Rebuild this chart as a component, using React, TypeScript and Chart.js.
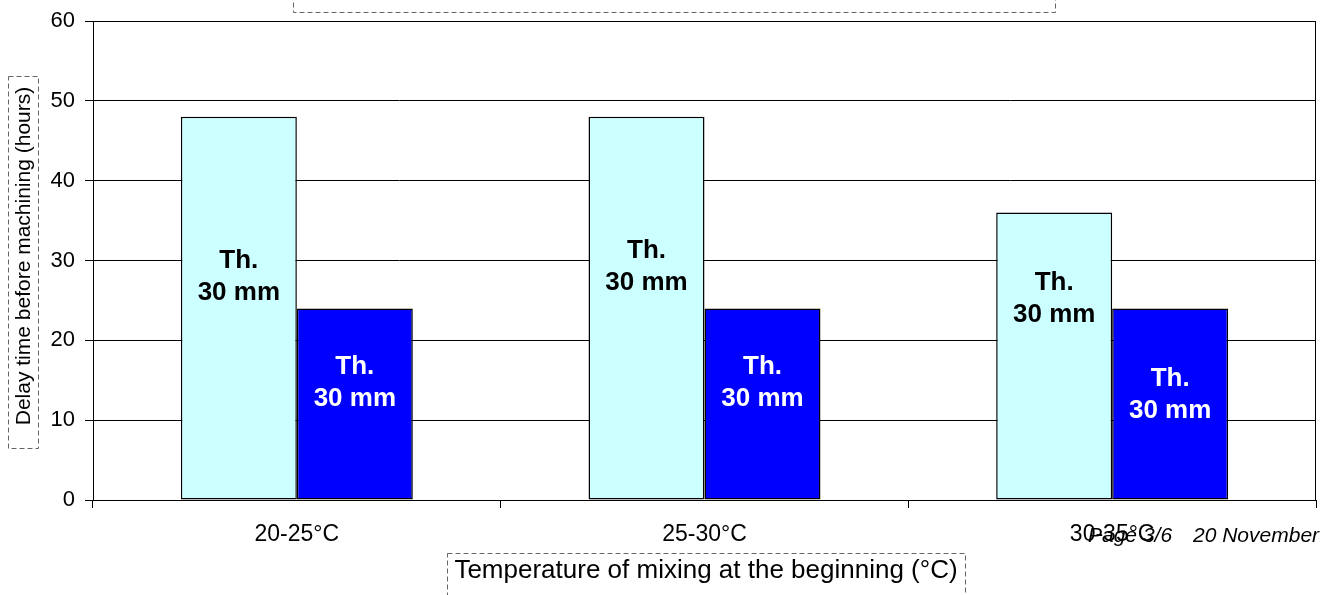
import { useEffect, useRef } from 'react';
import { Chart, registerables } from 'chart.js';

Chart.register(...registerables);

const categories = ['20-25°C', '25-30°C', '30-35°C'];
const delayLight = [48, 48, 36];
const delayBlue = [24, 24, 24];
const barCaption = ['Th.', '30 mm'];
const yAxisTitle = 'Delay time before machining (hours)';
const xAxisTitle = 'Temperature of mixing at the beginning (°C)';
const footerPage = 'Page 3/6';
const footerDate = '20 November';

const FONT = '"Liberation Sans", Arial, Helvetica, sans-serif';

// distance (px) from each bar's top edge to the top of its caption block
const captionOffsets = [
  [132, 122, 58],
  [47, 47, 59],
];
const captionColors = ['#000000', '#ffffff'];

const decorPlugin = {
  id: 'decor',
  afterDraw(chart: any) {
    const { ctx, chartArea: a } = chart;
    ctx.save();

    // frame around the plot area
    ctx.strokeStyle = '#000';
    ctx.lineWidth = 1;
    ctx.strokeRect(Math.round(a.left) + 0.5, Math.round(a.top) + 0.5,
      Math.round(a.right - a.left) - 1, Math.round(a.bottom - a.top));

    // captions inside the bars
    ctx.font = `bold 26px ${FONT}`;
    ctx.textAlign = 'center';
    ctx.textBaseline = 'alphabetic';
    chart.data.datasets.forEach((_: any, di: number) => {
      const meta = chart.getDatasetMeta(di);
      meta.data.forEach((bar: any, i: number) => {
        const top = bar.y + captionOffsets[di][i];
        ctx.fillStyle = captionColors[di];
        ctx.fillText(barCaption[0], bar.x, top + 19);
        ctx.fillText(barCaption[1], bar.x, top + 51);
      });
    });

    // dashed boxes around the titles
    ctx.setLineDash([5, 3]);
    ctx.strokeStyle = '#666';
    ctx.lineWidth = 1;
    ctx.strokeRect(293.5, -10.5, 762, 23);
    ctx.strokeRect(8.5, 76.5, 30, 372);
    ctx.strokeRect(447.5, 553.5, 518, 60);
    ctx.setLineDash([]);

    // y axis title
    ctx.fillStyle = '#000';
    ctx.font = `21px ${FONT}`;
    ctx.save();
    ctx.translate(24, 256);
    ctx.rotate(-Math.PI / 2);
    ctx.textAlign = 'center';
    ctx.textBaseline = 'middle';
    ctx.fillText(yAxisTitle, 0, 0);
    ctx.restore();

    // x axis title
    ctx.font = `26px ${FONT}`;
    ctx.textAlign = 'center';
    ctx.textBaseline = 'alphabetic';
    ctx.fillText(xAxisTitle, 706, 578);

    // page footer
    ctx.font = `italic 21px ${FONT}`;
    ctx.textAlign = 'left';
    ctx.fillText(footerPage, 1088, 542);
    ctx.fillText(footerDate, 1193, 542);

    ctx.restore();
  },
};

export default function App() {
  const canvasRef = useRef<HTMLCanvasElement | null>(null);

  useEffect(() => {
    const canvas = canvasRef.current;
    if (!canvas) return;
    const chart = new Chart(canvas, {
      type: 'bar',
      data: {
        labels: categories,
        datasets: [
          {
            label: 'Light',
            data: delayLight,
            backgroundColor: '#CCFFFF',
            borderColor: '#000',
            borderWidth: 1.5,
            borderSkipped: false,
            categoryPercentage: 0.569,
            barPercentage: 1,
          },
          {
            label: 'Blue',
            data: delayBlue,
            backgroundColor: '#0000FF',
            borderColor: '#000',
            borderWidth: 1.5,
            borderSkipped: false,
            categoryPercentage: 0.569,
            barPercentage: 1,
          },
        ],
      },
      options: {
        responsive: false,
        animation: false,
        devicePixelRatio: 1,
        layout: { padding: { left: 0, top: 21, right: 10, bottom: 0 } },
        plugins: {
          legend: { display: false },
          tooltip: { enabled: false },
          title: { display: false },
        },
        scales: {
          x: {
            offset: true,
            grid: {
              offset: true,
              drawOnChartArea: false,
              tickLength: 8,
              color: '#000',
            },
            border: { color: '#000', width: 1 },
            ticks: {
              color: '#000',
              font: { family: FONT, size: 23 },
              padding: 13,
              maxRotation: 0,
            },
            afterFit(scale: any) {
              scale.height = 95;
              scale.paddingLeft = 0;
              scale.paddingRight = 0;
            },
          },
          y: {
            min: 0,
            max: 60,
            ticks: {
              stepSize: 10,
              color: '#000',
              font: { family: FONT, size: 22 },
              padding: 10,
            },
            grid: { color: '#000', lineWidth: 1, tickLength: 8 },
            border: { color: '#000', width: 1 },
            afterFit(scale: any) {
              scale.width = 93;
              scale.paddingTop = 0;
              scale.paddingBottom = 0;
            },
          },
        },
      },
      plugins: [decorPlugin],
    });
    return () => chart.destroy();
  }, []);

  return (
    <div style={{ position: 'absolute', left: 0, top: 0, width: 1326, height: 595, background: '#fff' }}>
      <canvas ref={canvasRef} width={1326} height={595} />
    </div>
  );
}
